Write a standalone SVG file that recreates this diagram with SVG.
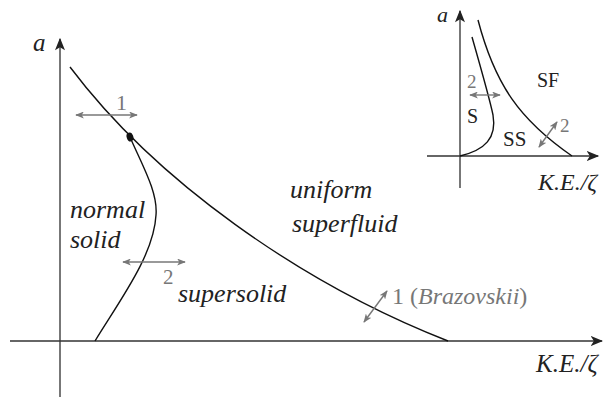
<svg xmlns="http://www.w3.org/2000/svg" width="603" height="397" viewBox="0 0 603 397">
<defs>
<marker id="ah" viewBox="0 0 10 8" refX="9" refY="4" markerWidth="13" markerHeight="10" markerUnits="userSpaceOnUse" orient="auto">
<path d="M0,0 L10,4 L0,8 L2.5,4 Z" fill="#222"/>
</marker>
<marker id="gh" viewBox="0 0 10 8" refX="9" refY="4" markerWidth="9" markerHeight="7" markerUnits="userSpaceOnUse" orient="auto-start-reverse">
<path d="M0,0 L10,4 L0,8 L2.5,4 Z" fill="#777"/>
</marker>
</defs>
<style>
.ax{stroke:#333;stroke-width:1.6;fill:none}
.axv{stroke:#555;stroke-width:1.6;fill:none}
.cv{stroke:#111;stroke-width:1.4;fill:none}
.ga{stroke:#777;stroke-width:1.4;fill:none;marker-start:url(#gh);marker-end:url(#gh)}
.it{font-style:italic}
.g{fill:#777}
</style>
<g id="connectors">
<line class="axv" x1="60" y1="397" x2="60" y2="39" marker-end="url(#ah)"/>
<line class="ax" x1="10" y1="341" x2="602" y2="341" marker-end="url(#ah)"/>
<path class="cv" d="M70,67 C155,180 300,283 448,341"/>
<path class="cv" d="M130,137 C142,165 158,192 156,215 C154,255 120,300 95,341"/>
<line class="ga" x1="76" y1="115" x2="137" y2="115"/>
<line class="ga" x1="123" y1="262" x2="185" y2="262"/>
<line class="ga" x1="364" y1="322" x2="387" y2="291"/>
<line class="axv" x1="460" y1="188" x2="460" y2="11" marker-end="url(#ah)"/>
<line class="ax" x1="427" y1="156" x2="598" y2="156" marker-end="url(#ah)"/>
<path class="cv" d="M472,37 C480,65 490,100 493,115 C497,138 485,150 460,156"/>
<path class="cv" d="M478,20 C495,85 520,120 572,156"/>
<line class="ga" x1="470" y1="95" x2="500" y2="95"/>
<line class="ga" x1="539" y1="147" x2="557" y2="122"/>
</g>
<g id="dot"><ellipse cx="130" cy="137" rx="3.3" ry="4.5" transform="rotate(-20 130 137)" fill="#111"/></g>
<g id="labels-main" font-family="'Liberation Serif', 'DejaVu Serif', serif" fill="#222">
<text class="it" x="33" y="51" font-size="25">a</text>
<text class="g" x="116" y="110" font-size="22">1</text>
<text class="it" x="70" y="218" font-size="26">normal</text>
<text class="it" x="70" y="248" font-size="26">solid</text>
<text class="it" x="290" y="198" font-size="26">uniform</text>
<text class="it" x="292" y="232" font-size="26">superfluid</text>
<text class="g" x="163" y="284" font-size="21">2</text>
<text class="it" x="178" y="302" font-size="26">supersolid</text>
<text class="g" x="392" y="304" font-size="24">1 (<tspan class="it">Brazovskii</tspan>)</text>
<text class="it" x="536" y="372" font-size="25">K.E./ζ</text>
</g>
<g id="labels-inset" font-family="'Liberation Serif', 'DejaVu Serif', serif" fill="#222">
<text class="it" x="437" y="22" font-size="22">a</text>
<text x="537" y="87" font-size="20">SF</text>
<text class="g" x="467" y="88" font-size="19">2</text>
<text x="467" y="123" font-size="20">S</text>
<text x="503" y="146" font-size="21">SS</text>
<text class="g" x="560" y="132" font-size="19">2</text>
<text class="it" x="538" y="190" font-size="24">K.E./ζ</text>
</g>
</svg>
